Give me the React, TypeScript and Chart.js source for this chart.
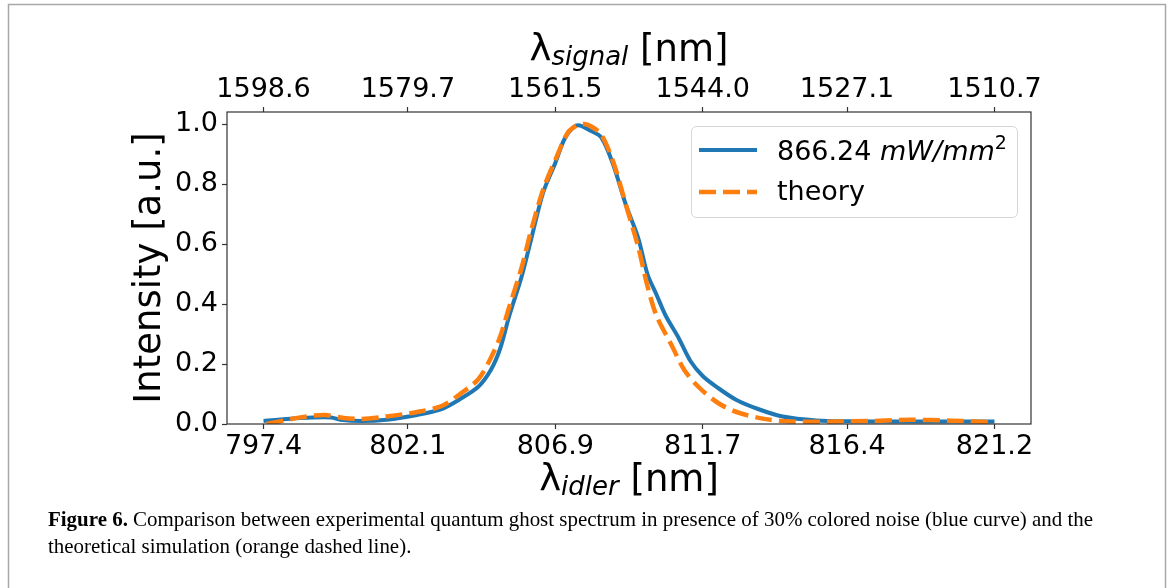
import React, { useEffect, useRef } from "react";
import { Chart, registerables } from "chart.js";

Chart.register(...registerables);

// ---- data ----
const idlerTicks = [797.4, 802.1, 806.9, 811.7, 816.4, 821.2];
const signalTickLabels = ["1598.6", "1579.7", "1561.5", "1544.0", "1527.1", "1510.7"];
const intensityTicks = [0, 0.2, 0.4, 0.6, 0.8, 1.0];

const idlerExp = [
  797.4, 798.6, 799.6, 799.9, 800.6, 801.4, 802.4, 803.2, 803.8, 804.4,
  804.8, 805.1, 805.4, 805.8, 806.1, 806.5, 806.9, 807.2, 807.5,
  807.7, 808.0, 808.4, 808.8, 809.2, 809.6, 809.9, 810.2, 810.5, 810.9,
  811.3, 811.7, 812.2, 812.8, 813.5, 814.3, 815.4, 816.5, 818.1, 819.8,
  821.2,
];
const intensityExp = [
  0.01, 0.02, 0.022, 0.014, 0.01, 0.014, 0.03, 0.05, 0.083, 0.125,
  0.18, 0.25, 0.36, 0.49, 0.61, 0.77, 0.87, 0.95, 0.99,
  0.995, 0.98, 0.955, 0.86, 0.73, 0.62, 0.5, 0.43, 0.36, 0.29,
  0.21, 0.16, 0.12, 0.08, 0.05, 0.025, 0.012, 0.009, 0.008, 0.008,
  0.008,
];

const idlerTheory = [
  797.5, 798.6, 799.4, 800.0, 800.6, 801.4, 802.4, 803.2, 803.8, 804.4,
  804.8, 805.1, 805.4, 805.8, 806.1, 806.5, 806.9, 807.3, 807.6, 807.85,
  808.1, 808.4, 808.8, 809.2, 809.6, 809.9, 810.2, 810.7, 811.1, 811.6,
  812.2, 812.8, 813.7, 814.6, 816.0, 817.2, 818.5, 819.8, 821.2,
];
const intensityTheory = [
  0.0, 0.022, 0.03, 0.02, 0.017, 0.025, 0.04, 0.06, 0.10, 0.15,
  0.22, 0.29, 0.39, 0.52, 0.64, 0.78, 0.88, 0.97, 0.995, 1.0,
  0.99, 0.965, 0.87, 0.73, 0.59, 0.46, 0.36, 0.26, 0.18, 0.12,
  0.07, 0.04, 0.017, 0.008, 0.008, 0.01, 0.014, 0.011, 0.006,
];

const legendLabelValue = "866.24 ";
const legendLabelUnit = "mW/mm";
const legendLabelPower = "2";
const theoryLabel = "theory";
const captionBold = "Figure 6.";
const captionLine1 =
  " Comparison between experimental quantum ghost spectrum in presence of 30% colored noise (blue curve) and the";
const captionLine2 = "theoretical simulation (orange dashed line).";

// ---- layout ----
const W = 1171;
const H = 588;
const PLOT_LEFT = 227;
const PLOT_TOP = 112;
const PLOT_BOTTOM = 424;
const PLOT_RIGHT = 1031;
const X_MARGIN = (idlerTicks[idlerTicks.length - 1] - idlerTicks[0]) * 0.05;
const X_MIN = idlerTicks[0] - X_MARGIN;
const X_MAX = idlerTicks[idlerTicks.length - 1] + X_MARGIN;

const SANS = "'DejaVu Sans', sans-serif";
const SERIF = "'Liberation Serif', serif";
const BLUE = "#1f77b4";
const ORANGE = "#ff7f0e";
const SPINE = "#333333";

type Run = { text: string; font: string; dy?: number };

function drawRuns(ctx: CanvasRenderingContext2D, runs: Run[], x: number, y: number, center: boolean) {
  const widths = runs.map((r) => {
    ctx.font = r.font;
    return ctx.measureText(r.text).width;
  });
  const total = widths.reduce((a, b) => a + b, 0);
  let cx = center ? x - total / 2 : x;
  ctx.textAlign = "left";
  ctx.textBaseline = "alphabetic";
  runs.forEach((r, i) => {
    ctx.font = r.font;
    ctx.fillText(r.text, cx, y + (r.dy || 0));
    cx += widths[i];
  });
  return total;
}

const decorPlugin = {
  id: "decor",
  beforeDraw(chart: any) {
    const ctx = chart.ctx as CanvasRenderingContext2D;
    ctx.save();
    ctx.fillStyle = "#ffffff";
    ctx.fillRect(0, 0, W, H);
    ctx.restore();
  },
  afterDraw(chart: any) {
    const ctx = chart.ctx as CanvasRenderingContext2D;
    const a = chart.chartArea;
    ctx.save();

    // figure frame
    ctx.strokeStyle = "#a8a8a8";
    ctx.lineWidth = 1.5;
    ctx.strokeRect(8.5, 4.5, 1157, 600);

    // spines
    ctx.strokeStyle = SPINE;
    ctx.lineWidth = 1.2;
    ctx.strokeRect(a.left, a.top, a.right - a.left, a.bottom - a.top);

    // legend
    const lx = 691, ly = 126, lw = 326, lh = 91;
    ctx.beginPath();
    (ctx as any).roundRect(lx + 0.5, ly + 0.5, lw, lh, 5);
    ctx.fillStyle = "rgba(255,255,255,0.85)";
    ctx.fill();
    ctx.strokeStyle = "#d6d6d6";
    ctx.lineWidth = 1;
    ctx.stroke();

    ctx.lineCap = "butt";
    ctx.beginPath();
    ctx.strokeStyle = BLUE;
    ctx.lineWidth = 4;
    ctx.moveTo(699, 150);
    ctx.lineTo(757, 150);
    ctx.stroke();

    ctx.beginPath();
    ctx.setLineDash([17, 7]);
    ctx.strokeStyle = ORANGE;
    ctx.lineWidth = 4.5;
    ctx.moveTo(699, 192);
    ctx.lineTo(757, 192);
    ctx.stroke();
    ctx.setLineDash([]);

    ctx.fillStyle = "#000000";
    drawRuns(
      ctx,
      [
        { text: legendLabelValue, font: `27px ${SANS}` },
        { text: legendLabelUnit, font: `oblique 27px ${SANS}` },
        { text: legendLabelPower, font: `19px ${SANS}`, dy: -11 },
      ],
      777,
      160,
      false
    );
    drawRuns(ctx, [{ text: theoryLabel, font: `27px ${SANS}` }], 777, 200, false);

    // axis titles
    const midX = (a.left + a.right) / 2;
    drawRuns(
      ctx,
      [
        { text: "λ", font: `37px ${SANS}` },
        { text: "signal", font: `oblique 26px ${SANS}`, dy: 4 },
        { text: " [nm]", font: `37px ${SANS}` },
      ],
      midX,
      61,
      true
    );
    drawRuns(
      ctx,
      [
        { text: "λ", font: `37px ${SANS}` },
        { text: "idler", font: `oblique 26px ${SANS}`, dy: 4 },
        { text: " [nm]", font: `37px ${SANS}` },
      ],
      midX,
      491,
      true
    );

    ctx.save();
    ctx.translate(160, (a.top + a.bottom) / 2);
    ctx.rotate(-Math.PI / 2);
    ctx.font = `37px ${SANS}`;
    ctx.textAlign = "center";
    ctx.textBaseline = "alphabetic";
    ctx.fillText("Intensity [a.u.]", 0, 0);
    ctx.restore();

    // caption
    const boldFont = `bold 21px ${SERIF}`;
    const regFont = `21px ${SERIF}`;
    ctx.font = boldFont;
    const wb = ctx.measureText(captionBold).width;
    ctx.font = regFont;
    const w1 = ctx.measureText(captionLine1).width;
    const sx = 1045 / (wb + w1);
    ctx.save();
    ctx.translate(48, 0);
    ctx.scale(sx, 1);
    drawRuns(
      ctx,
      [
        { text: captionBold, font: boldFont },
        { text: captionLine1, font: regFont },
      ],
      0,
      526,
      false
    );
    drawRuns(ctx, [{ text: captionLine2, font: regFont }], 0, 553, false);
    ctx.restore();

    ctx.restore();
  },
};

export default function App() {
  const ref = useRef<HTMLCanvasElement>(null);

  useEffect(() => {
    const canvas = ref.current;
    if (!canvas) return;

    const expData = idlerExp.map((x, i) => ({ x, y: intensityExp[i] }));
    const theoryData = idlerTheory.map((x, i) => ({ x, y: intensityTheory[i] }));

    const tickFont = { family: SANS, size: 27 };
    const gridCommon = {
      drawOnChartArea: false,
      drawTicks: true,
      tickLength: 5,
      color: SPINE,
      tickColor: SPINE,
      tickWidth: 1.2,
    };

    const chart = new Chart(canvas, {
      type: "line",
      data: {
        datasets: [
          {
            label: "866.24 mW/mm2",
            data: expData,
            borderColor: BLUE,
            borderWidth: 4,
            pointRadius: 0,
            fill: false,
            tension: 0.3,
            order: 1,
          },
          {
            label: "theory",
            data: theoryData,
            borderColor: ORANGE,
            borderWidth: 4.5,
            borderDash: [17, 7],
            borderCapStyle: "butt",
            pointRadius: 0,
            fill: false,
            tension: 0.3,
            order: 0,
          },
        ],
      },
      options: {
        animation: false,
        responsive: false,
        devicePixelRatio: 1,
        events: [],
        layout: { padding: { left: 0, right: W - PLOT_RIGHT, top: 0, bottom: 0 } },
        plugins: {
          legend: { display: false },
          title: { display: false },
          tooltip: { enabled: false },
        },
        scales: {
          x: {
            type: "linear",
            position: "bottom",
            min: X_MIN,
            max: X_MAX,
            afterBuildTicks: (s: any) => {
              s.ticks = idlerTicks.map((v) => ({ value: v }));
            },
            afterFit: (s: any) => {
              s.height = H - PLOT_BOTTOM;
            },
            ticks: {
              font: tickFont,
              color: "#000",
              padding: 2,
              maxRotation: 0,
              autoSkip: false,
              callback: (_v: any, i: number) => idlerTicks[i].toFixed(1),
            },
            grid: gridCommon,
            border: { display: false },
          },
          x2: {
            type: "linear",
            position: "top",
            min: X_MIN,
            max: X_MAX,
            afterBuildTicks: (s: any) => {
              s.ticks = idlerTicks.map((v) => ({ value: v }));
            },
            afterFit: (s: any) => {
              s.height = PLOT_TOP;
            },
            ticks: {
              font: tickFont,
              color: "#000",
              padding: 1,
              maxRotation: 0,
              autoSkip: false,
              callback: (_v: any, i: number) => signalTickLabels[i],
            },
            grid: gridCommon,
            border: { display: false },
          },
          y: {
            type: "linear",
            position: "left",
            min: 0,
            max: 1.04,
            afterBuildTicks: (s: any) => {
              s.ticks = intensityTicks.map((v) => ({ value: v }));
            },
            afterFit: (s: any) => {
              s.width = PLOT_LEFT;
            },
            ticks: {
              font: tickFont,
              color: "#000",
              padding: 4,
              callback: (v: any) => Number(v).toFixed(1),
            },
            grid: gridCommon,
            border: { display: false },
          },
        },
      } as any,
      plugins: [decorPlugin],
    });

    return () => chart.destroy();
  }, []);

  return (
    <div style={{ position: "fixed", left: 0, top: 0, width: W, height: H, background: "#fff" }}>
      <canvas ref={ref} width={W} height={H} style={{ display: "block", width: W, height: H }} />
    </div>
  );
}
